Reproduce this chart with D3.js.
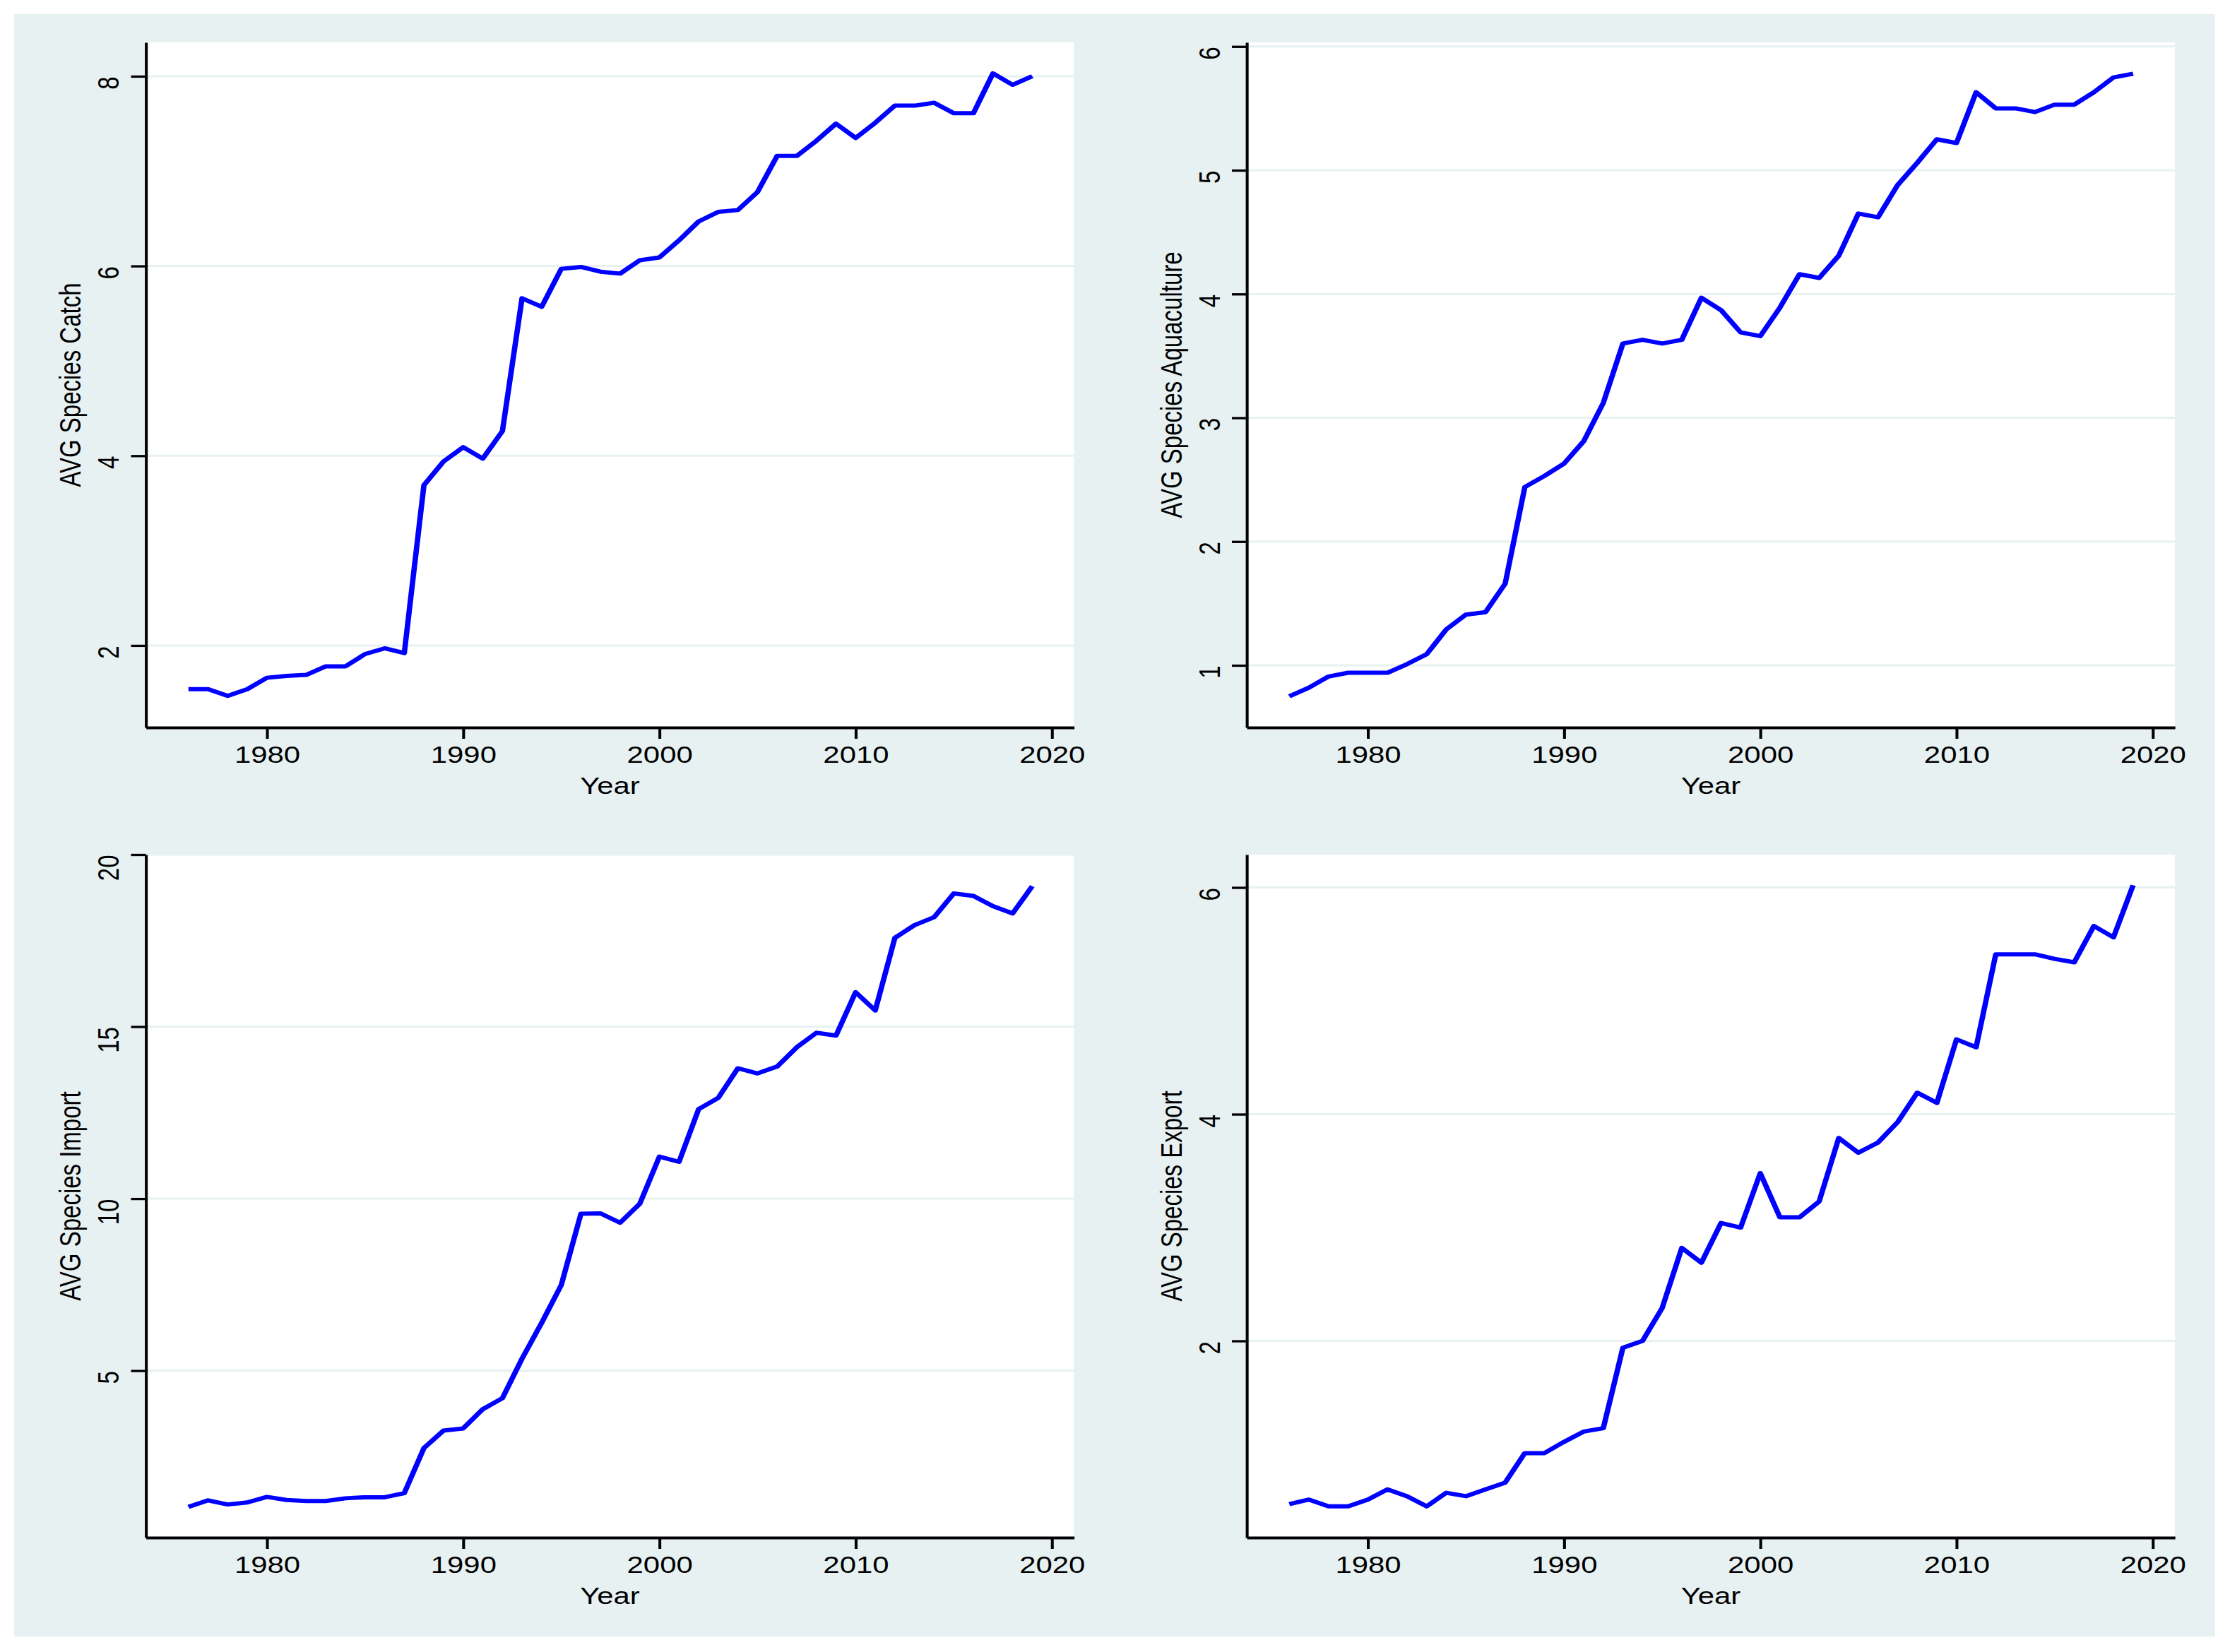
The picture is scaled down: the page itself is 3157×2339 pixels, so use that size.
<!DOCTYPE html>
<html>
<head>
<meta charset="utf-8">
<script src="https://cdn.jsdelivr.net/npm/d3@7"></script>
<style>
  body { margin: 0; background: #ffffff; }
  svg { display: block; }
</style>
</head>
<body>
<div id="chart"></div>
<script>
// Data
const years = [1976, 1977, 1978, 1979, 1980, 1981, 1982, 1983, 1984, 1985, 1986,
               1987, 1988, 1989, 1990, 1991, 1992, 1993, 1994, 1995, 1996, 1997,
               1998, 1999, 2000, 2001, 2002, 2003, 2004, 2005, 2006, 2007, 2008,
               2009, 2010, 2011, 2012, 2013, 2014, 2015, 2016, 2017, 2018, 2019]

const catchAvg = [1.54, 1.54, 1.47, 1.54, 1.66, 1.68, 1.69, 1.78, 1.78, 1.91, 1.97,
                  1.92, 3.69, 3.94, 4.09, 3.97, 4.26, 5.66, 5.57, 5.97, 5.99, 5.94,
                  5.92, 6.06, 6.09, 6.27, 6.47, 6.57, 6.59, 6.78, 7.16, 7.16, 7.32,
                  7.50, 7.35, 7.51, 7.69, 7.69, 7.72, 7.61, 7.61, 8.03, 7.91, 8.00]

const aquaAvg = [0.75, 0.82, 0.91, 0.94, 0.94, 0.94, 1.01, 1.09, 1.29, 1.41, 1.43,
                 1.66, 2.44, 2.53, 2.63, 2.81, 3.12, 3.60, 3.63, 3.60, 3.63, 3.97,
                 3.87, 3.69, 3.66, 3.89, 4.16, 4.13, 4.31, 4.65, 4.62, 4.88, 5.06,
                 5.25, 5.22, 5.63, 5.50, 5.50, 5.47, 5.53, 5.53, 5.63, 5.75, 5.78]

const importAvg = [1.04, 1.23, 1.11, 1.17, 1.33, 1.24, 1.21, 1.21, 1.29, 1.32, 1.32,
                   1.44, 2.75, 3.26, 3.32, 3.88, 4.20, 5.35, 6.39, 7.49, 9.56, 9.57,
                   9.30, 9.85, 11.22, 11.07, 12.60, 12.93, 13.79, 13.64, 13.84, 14.40, 14.82,
                   14.74, 16.00, 15.47, 17.58, 17.95, 18.18, 18.87, 18.80, 18.50, 18.29, 19.08]

const exportAvg = [0.56, 0.60, 0.54, 0.54, 0.60, 0.69, 0.63, 0.54, 0.66, 0.63, 0.69,
                   0.75, 1.01, 1.01, 1.11, 1.20, 1.23, 1.94, 2.00, 2.29, 2.82, 2.69,
                   3.04, 3.00, 3.48, 3.09, 3.09, 3.23, 3.79, 3.66, 3.75, 3.93, 4.19,
                   4.10, 4.66, 4.59, 5.41, 5.41, 5.41, 5.37, 5.34, 5.66, 5.56, 6.02]

const yearTicks = [1980, 1990, 2000, 2010, 2020]
const catchTicks = [2, 4, 6, 8]
const aquaTicks = [1, 2, 3, 4, 5, 6]
const importTicks = [5, 10, 15, 20]
const exportTicks = [2, 4, 6]

// the exported graph is stretched sideways, so draw in a squeezed frame
const SX = 1.27
const W = 3157, H = 2339
const bg = '#e7f1f2'
const font = "'Liberation Sans', Arial, sans-serif"
const fontSize = 33

const panels = [
  { values: catchAvg,  ticks: catchTicks,  title: 'AVG Species Catch',
    left: 206.5, right: 1520.5, top: 60,   bottom: 1030, yDomain: [1.136, 8.357] },
  { values: aquaAvg,   ticks: aquaTicks,   title: 'AVG Species Aquaculture',
    left: 1765,  right: 3079,   top: 60,   bottom: 1030, yDomain: [0.498, 6.033] },
  { values: importAvg, ticks: importTicks, title: 'AVG Species Import',
    left: 206.5, right: 1520.5, top: 1210, bottom: 2177, yDomain: [0.148, 20] },
  { values: exportAvg, ticks: exportTicks, title: 'AVG Species Export',
    left: 1765,  right: 3079,   top: 1210, bottom: 2177, yDomain: [0.265, 6.29] }
]

const svg = d3.select('#chart')
              .append('svg')
              .attr('width', W)
              .attr('height', H)

svg.append('rect')
   .attr('width', W)
   .attr('height', H)
   .attr('fill', '#ffffff')

const root = svg.append('g')
                .attr('transform', `scale(${SX},1)`)

// graph region
root.append('rect')
    .attr('x', 20 / SX)
    .attr('y', 20)
    .attr('width', (3136 - 20) / SX)
    .attr('height', 2317 - 20)
    .attr('fill', bg)

panels.forEach(p => {
  const data = years.map((yr, i) => ({ year: yr, value: p.values[i] }))

  const xScale = d3.scaleLinear()
                   .domain([1973.83, 2021.13])
                   .range([p.left / SX, p.right / SX])

  const yScale = d3.scaleLinear()
                   .domain(p.yDomain)
                   .range([p.bottom, p.top])

  const g = root.append('g')

  // plot region
  g.append('rect')
   .attr('x', p.left / SX)
   .attr('y', p.top)
   .attr('width', (p.right - p.left) / SX)
   .attr('height', p.bottom - p.top)
   .attr('fill', '#ffffff')

  // gridlines
  g.selectAll('.grid')
   .data(p.ticks)
   .join('line')
   .attr('class', 'grid')
   .attr('x1', p.left / SX)
   .attr('x2', p.right / SX)
   .attr('y1', d => yScale(d))
   .attr('y2', d => yScale(d))
   .attr('stroke', bg)
   .attr('stroke-width', 3)

  // series
  const line = d3.line()
                 .x(d => xScale(d.year))
                 .y(d => yScale(d.value))

  g.append('path')
   .datum(data)
   .attr('d', line)
   .attr('fill', 'none')
   .attr('stroke', '#0000ff')
   .attr('stroke-width', 6)
   .attr('stroke-linejoin', 'round')

  // Y axis
  const yAxis = d3.axisLeft(yScale)
                  .tickValues(p.ticks)
                  .tickSize(21 / SX)
                  .tickSizeOuter(0)
                  .tickFormat(d => d)

  const yAxisGroup = g.append('g')
                      .attr('transform', `translate(${p.left / SX},0)`)
                      .call(yAxis)
  yAxisGroup.select('.domain')
            .attr('stroke', '#000')
            .attr('stroke-width', 3.2)
  yAxisGroup.selectAll('.tick line')
            .attr('stroke', '#000')
            .attr('stroke-width', 3.3)
  yAxisGroup.selectAll('.tick text')
            .attr('x', null)
            .attr('dy', null)
            .attr('transform', `translate(${-38.5 / SX},0) rotate(-90)`)
            .attr('text-anchor', 'end')
            .attr('font-family', font)
            .attr('font-size', fontSize)
            .attr('fill', '#000')

  // X axis
  const xAxis = d3.axisBottom(xScale)
                  .tickValues(yearTicks)
                  .tickSize(16)
                  .tickSizeOuter(0)
                  .tickFormat(d => d)

  const xAxisGroup = g.append('g')
                      .attr('transform', `translate(0,${p.bottom})`)
                      .call(xAxis)
  xAxisGroup.select('.domain')
            .attr('stroke', '#000')
            .attr('stroke-width', 4)
  xAxisGroup.selectAll('.tick line')
            .attr('stroke', '#000')
            .attr('stroke-width', 3.2)
  xAxisGroup.selectAll('.tick text')
            .attr('y', 50)
            .attr('dy', null)
            .attr('font-family', font)
            .attr('font-size', fontSize)
            .attr('fill', '#000')

  // axis titles
  g.append('text')
   .attr('x', (p.left + p.right) / 2 / SX)
   .attr('y', p.bottom + 94)
   .attr('text-anchor', 'middle')
   .attr('font-family', font)
   .attr('font-size', fontSize)
   .text('Year')

  g.append('text')
   .attr('transform', `translate(${(p.left - 92) / SX},${(p.top + p.bottom) / 2}) rotate(-90)`)
   .attr('text-anchor', 'middle')
   .attr('font-family', font)
   .attr('font-size', fontSize)
   .text(p.title)
})
</script>
</body>
</html>
